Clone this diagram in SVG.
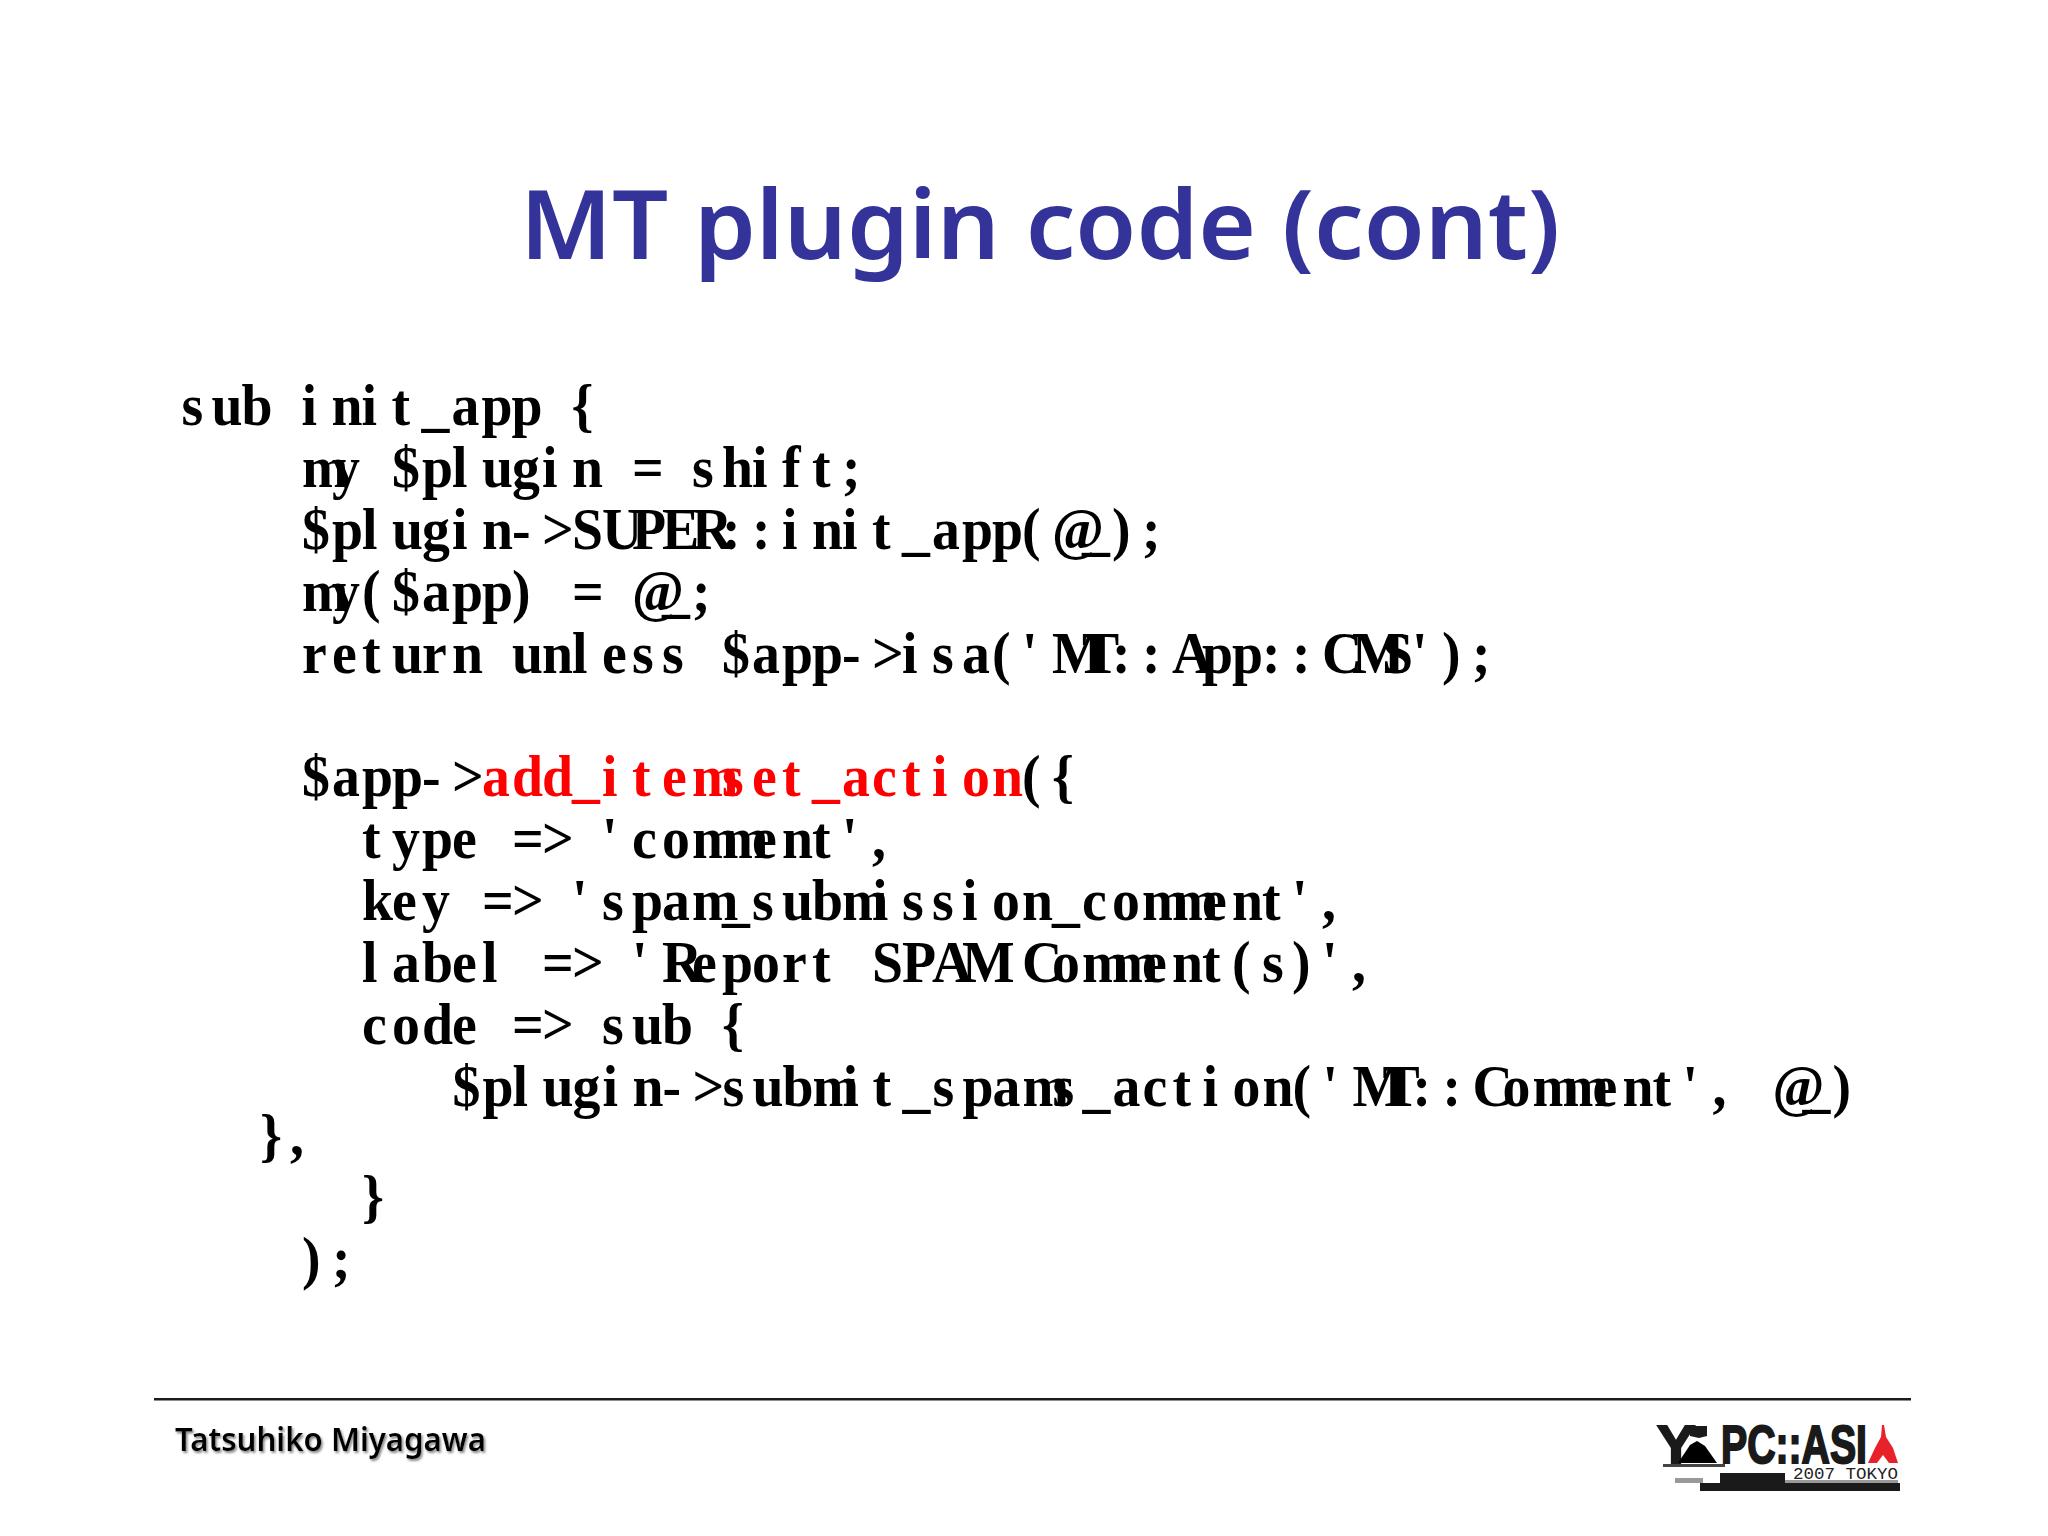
<svg xmlns="http://www.w3.org/2000/svg" width="2048" height="1536" viewBox="0 0 2048 1536">
<style>
.c{font-family:"Liberation Serif","Times New Roman",serif;font-weight:700;font-size:60px;fill:#000;white-space:pre}
.r{fill:#f00}
.t{font-family:"Noto Sans","Open Sans",sans-serif;font-weight:650;font-size:96px;fill:#333399}
.f{font-family:"Noto Sans","Open Sans",sans-serif;font-weight:650;font-size:32px;fill:#000}
.l{font-family:"Liberation Sans",Arial,sans-serif;font-weight:700;font-size:54px;fill:#1a1a1a;stroke:#1a1a1a;stroke-width:2}
.s{font-family:"Liberation Mono",monospace;font-weight:400;font-size:17px;fill:#222}
</style>
<defs>
<filter id="sh" x="-5%" y="-20%" width="110%" height="150%"><feDropShadow dx="1.5" dy="2" stdDeviation="1" flood-color="#888"/></filter>
</defs>
<rect width="2048" height="1536" fill="#fff"/>
<text id="title" class="t" x="520" y="259" textLength="1040" lengthAdjust="spacingAndGlyphs">MT plugin code (cont)</text>
<g id="code">
<text class="c" transform="translate(181.5 425) scale(.93 1)" x="0 32.26 64.52 96.78 129.04 161.3 193.56 225.82 258.08 290.34 322.6 354.86 387.12 419.38">sub init_app {</text>
<text class="c" transform="translate(302 486.9) scale(.93 1)" x="0 32.26 64.52 96.78 129.04 161.3 193.56 225.82 258.08 290.34 322.6 354.86 387.12 419.38 451.64 483.9 516.16 548.42 580.68">my $plugin = shift;</text>
<text class="c" transform="translate(302 548.8) scale(.93 1)" x="0 32.26 64.52 96.78 129.04 161.3 193.56 225.82 258.08 290.34 322.6 354.86 387.12 419.38 451.64 483.9 516.16 548.42 580.68 612.94 645.2 677.46 709.72 741.98 774.24 806.5 838.76 871.02 903.28">$plugin->SUPER::init_app(@_);</text>
<text class="c" transform="translate(302 610.7) scale(.93 1)" x="0 32.26 64.52 96.78 129.04 161.3 193.56 225.82 258.08 290.34 322.6 354.86 387.12 419.38">my($app) = @_;</text>
<text class="c" transform="translate(302 672.6) scale(.93 1)" x="0 32.26 64.52 96.78 129.04 161.3 193.56 225.82 258.08 290.34 322.6 354.86 387.12 419.38 451.64 483.9 516.16 548.42 580.68 612.94 645.2 677.46 709.72 741.98 774.24 806.5 838.76 871.02 903.28 935.54 967.8 1000.06 1032.32 1064.58 1096.84 1129.1 1161.36 1193.62 1225.88 1258.14">return unless $app->isa('MT::App::CMS');</text>
<text class="c" transform="translate(302 796.4) scale(.93 1)" x="0 32.26 64.52 96.78 129.04 161.3 193.56 225.82 258.08 290.34 322.6 354.86 387.12 419.38 451.64 483.9 516.16 548.42 580.68 612.94 645.2 677.46 709.72 741.98 774.24 806.5">$app-><tspan class="r">add_itemset_action</tspan>({</text>
<text class="c" transform="translate(362 858.3) scale(.93 1)" x="0 32.26 64.52 96.78 129.04 161.3 193.56 225.82 258.08 290.34 322.6 354.86 387.12 419.38 451.64 483.9 516.16 548.42">type => 'comment',</text>
<text class="c" transform="translate(362 920.2) scale(.93 1)" x="0 32.26 64.52 96.78 129.04 161.3 193.56 225.82 258.08 290.34 322.6 354.86 387.12 419.38 451.64 483.9 516.16 548.42 580.68 612.94 645.2 677.46 709.72 741.98 774.24 806.5 838.76 871.02 903.28 935.54 967.8 1000.06 1032.32">key => 'spam_submission_comment',</text>
<text class="c" transform="translate(362 982.1) scale(.93 1)" x="0 32.26 64.52 96.78 129.04 161.3 193.56 225.82 258.08 290.34 322.6 354.86 387.12 419.38 451.64 483.9 516.16 548.42 580.68 612.94 645.2 677.46 709.72 741.98 774.24 806.5 838.76 871.02 903.28 935.54 967.8 1000.06 1032.32 1064.58">label => 'Report SPAM Comment(s)',</text>
<text class="c" transform="translate(362 1044) scale(.93 1)" x="0 32.26 64.52 96.78 129.04 161.3 193.56 225.82 258.08 290.34 322.6 354.86 387.12">code => sub {</text>
<text class="c" transform="translate(452.5 1105.9) scale(.93 1)" x="0 32.26 64.52 96.78 129.04 161.3 193.56 225.82 258.08 290.34 322.6 354.86 387.12 419.38 451.64 483.9 516.16 548.42 580.68 612.94 645.2 677.46 709.72 741.98 774.24 806.5 838.76 871.02 903.28 935.54 967.8 1000.06 1032.32 1064.58 1096.84 1129.1 1161.36 1193.62 1225.88 1258.14 1290.4 1322.66 1354.92 1387.18 1419.44 1451.7 1483.96">$plugin->submit_spams_action('MT::Comment', @_)</text>
<text class="c" transform="translate(260 1154.5) scale(.93 1)" x="0 32.26">},</text>
<text class="c" transform="translate(362 1216) scale(.93 1)" x="0">}</text>
<text class="c" transform="translate(302 1277.5) scale(.93 1)" x="0 32.26">);</text>
</g>
<g id="footer">
<rect x="154" y="1398" width="1757" height="2.5" fill="#1c1c1c"/>
<text class="f" x="175" y="1451" textLength="311" lengthAdjust="spacingAndGlyphs" filter="url(#sh)">Tatsuhiko Miyagawa</text>
</g>
<g id="logo">
<text class="l" x="1657" y="1463" textLength="38" lengthAdjust="spacingAndGlyphs">Y</text>
<polygon points="1678,1463 1690,1445 1697,1441 1705,1446 1717,1463" fill="#000"/>
<polygon points="1690,1426 1707,1426 1707,1436 1699,1438 1690,1436" fill="#1a1a1a"/>
<text class="l" x="1721" y="1463" textLength="146" lengthAdjust="spacingAndGlyphs">PC::ASI</text>
<polygon points="1882,1425 1884,1425 1886,1437 1893,1448 1898,1463 1889,1463 1883,1455 1877,1463 1868,1463 1875,1448 1881,1437" fill="#e8222a"/>
<rect x="1663" y="1464" width="62" height="3" fill="#444"/>
<rect x="1675" y="1478" width="28" height="5" fill="#999"/>
<rect x="1785" y="1480" width="113" height="3" fill="#999"/>
<polygon points="1720,1473 1785,1473 1785,1483 1900,1483 1900,1491 1700,1491 1700,1483 1720,1483" fill="#1a1a1a"/>
<text class="s" x="1793" y="1479" textLength="105" lengthAdjust="spacingAndGlyphs">2007 TOKYO</text>
</g>
</svg>
